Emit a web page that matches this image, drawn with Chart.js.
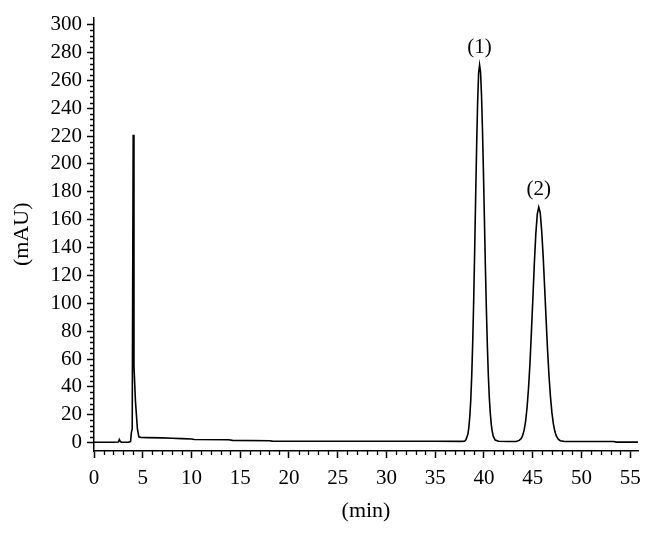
<!DOCTYPE html>
<html>
<head>
<meta charset="utf-8">
<script src="https://cdn.jsdelivr.net/npm/chart.js@4.4.1/dist/chart.umd.min.js"></script>
<style>
  html, body { margin: 0; padding: 0; background: #fff; }
  #wrap { width: 653px; height: 534px; position: relative; }
</style>
</head>
<body>
<div id="wrap"><canvas id="c"></canvas></div>
<script>
// ---- data ----
const times = [
  0, 1, 2, 2.5, 2.6, 2.7, 2.8, 3.5, 3.75, 3.83, 3.92, 4.02, 4.1, 4.25, 4.45, 4.6, 4.8,
  5.5, 7, 8, 9, 10, 10.3, 13.8, 14.2, 18, 18.3, 25, 30, 35, 37.6, 38.0,
  38.15, 38.35, 38.45, 38.55, 38.65, 38.75, 38.85, 38.95, 39.05, 39.15, 39.25, 39.35, 39.45, 39.55,
  39.65, 39.75, 39.85, 39.95, 40.05, 40.15, 40.25, 40.35, 40.45, 40.55, 40.65, 40.75, 40.85, 40.95, 41.15, 41.5,
  42.5, 43.3,
  43.62, 43.82, 43.97, 44.12, 44.27, 44.42, 44.57, 44.72, 44.87, 45.02, 45.17, 45.32, 45.47, 45.62,
  45.77, 45.92, 46.07, 46.22, 46.37, 46.52, 46.67, 46.82, 46.97, 47.12, 47.27, 47.42, 47.62, 47.82, 48.2,
  50, 53.3, 53.6, 55.8
];
const signal = [
  0.3, 0.3, 0.3, 0.4, 2.2, 0.8, 0.3, 0.3, 0.8, 7, 10, 221, 55, 30, 10, 4.2, 3.8,
  3.6, 3.4, 3.2, 2.9, 2.6, 2.2, 2.1, 1.6, 1.4, 1.1, 1.0, 1.0, 1.0, 0.9, 1.0,
  2, 6, 11, 19, 31, 49, 73, 103, 139, 177, 213, 244, 265, 271,
  266, 249, 224, 193, 159, 125, 95, 69, 48, 32, 21, 13, 8, 4.6, 1.8, 1.0,
  0.8, 0.8,
  1.6, 3.0, 5.1, 9.0, 15.3, 25, 39, 57, 80, 104, 129, 150, 164, 169,
  165, 152, 134, 112, 89, 67, 48, 33, 21.5, 13.5, 8.1, 4.8, 2.5, 1.4, 0.9,
  0.8, 0.8, 0.4, 0.4
];
const xTickValues = [0, 5, 10, 15, 20, 25, 30, 35, 40, 45, 50, 55];
const xMinorValues = [1,2,3,4,6,7,8,9,11,12,13,14,16,17,18,19,21,22,23,24,26,27,28,29,31,32,33,34,36,37,38,39,41,42,43,44,46,47,48,49,51,52,53,54];
const yTickValues = [0, 20, 40, 60, 80, 100, 120, 140, 160, 180, 200, 220, 240, 260, 280, 300];
const yMinorValues = [];
for (const v of yTickValues) { if (v < 300) { yMinorValues.push(v + 4, v + 8, v + 12, v + 16); } }
const peakLabels = ['(1)', '(2)'];
const peakTimes = [39.55, 45.62];
const peakHeights = [271, 169];
const xTitle = '(min)';
const yTitle = '(mAU)';

// ---- chart ----
const FONT = '"Liberation Serif", "DejaVu Serif", serif';
const points = times.map((t, i) => ({ x: t, y: signal[i] }));

const extras = {
  id: 'extras',
  afterDraw(chart) {
    const ctx = chart.ctx;
    const xs = chart.scales.x, ys = chart.scales.y;
    const area = chart.chartArea;
    ctx.save();
    ctx.strokeStyle = '#000';
    ctx.lineWidth = 1.3;
    ctx.beginPath();
    for (const v of xMinorValues) {
      const px = Math.round(xs.getPixelForValue(v)) + 0.5;
      ctx.moveTo(px, area.bottom);
      ctx.lineTo(px, area.bottom + 4);
    }
    for (const v of yMinorValues) {
      const py = Math.round(ys.getPixelForValue(v)) + 0.5;
      ctx.moveTo(area.left, py);
      ctx.lineTo(area.left - 4, py);
    }
    ctx.stroke();
    ctx.fillStyle = '#000';
    ctx.font = '21px ' + FONT;
    ctx.textAlign = 'center';
    ctx.textBaseline = 'alphabetic';
    peakLabels.forEach((lab, i) => {
      const px = xs.getPixelForValue(peakTimes[i]);
      const py = ys.getPixelForValue(peakHeights[i]);
      ctx.fillText(lab, px, py - 12);
    });
    ctx.restore();
  }
};

new Chart(document.getElementById('c'), {
  type: 'line',
  data: {
    datasets: [{
      data: points,
      borderColor: '#000',
      borderWidth: 1.6,
      pointRadius: 0,
      tension: 0,
      fill: false
    }]
  },
  options: {
    responsive: true,
    maintainAspectRatio: false,
    animation: false,
    layout: { padding: { left: 0, right: 15, top: 15, bottom: 0 } },
    plugins: { legend: { display: false }, tooltip: { enabled: false } },
    scales: {
      x: {
        type: 'linear',
        min: 0, max: 55.8,
        afterBuildTicks: (s) => { s.ticks = xTickValues.map(v => ({ value: v })); },
        afterFit: (s) => { s.height = 83; },
        grid: { drawOnChartArea: false, drawTicks: true, tickLength: 7, color: '#000', tickWidth: 1.5 },
        border: { display: true, color: '#000', width: 1.5 },
        ticks: { color: '#000', font: { family: FONT, size: 21 }, padding: 8, maxRotation: 0, autoSkip: false },
        title: { display: true, text: xTitle, color: '#000', font: { family: FONT, size: 22 }, padding: { top: 0, bottom: 10 } }
      },
      y: {
        type: 'linear',
        min: -6, max: 305,
        afterBuildTicks: (s) => { s.ticks = yTickValues.map(v => ({ value: v })); },
        afterFit: (s) => { s.width = 94; },
        grid: { drawOnChartArea: false, drawTicks: true, tickLength: 7, color: '#000', tickWidth: 1.5 },
        border: { display: true, color: '#000', width: 1.5 },
        ticks: { color: '#000', font: { family: FONT, size: 21 }, padding: 5, autoSkip: false },
        title: { display: true, text: yTitle, color: '#000', font: { family: FONT, size: 22 }, padding: { top: 9, bottom: 0 } }
      }
    }
  },
  plugins: [extras]
});
</script>
</body>
</html>
